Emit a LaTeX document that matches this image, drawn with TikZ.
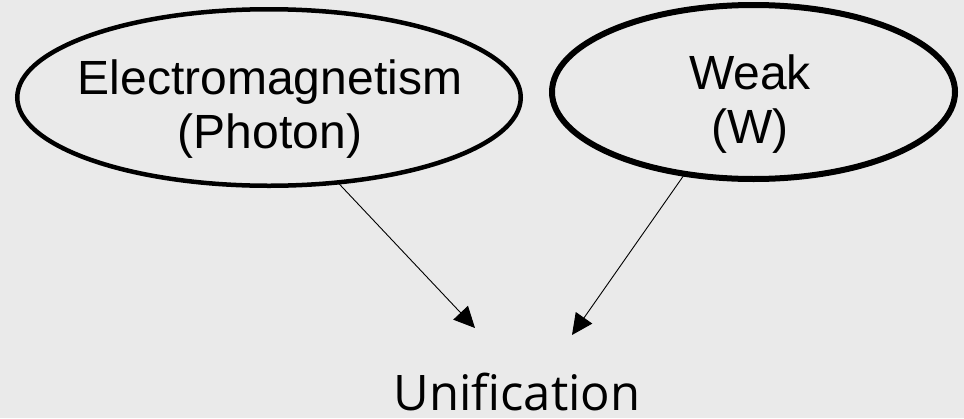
\documentclass[tikz,border=0pt]{standalone}
\usepackage{fontspec}
\setmainfont{Liberation Sans}
\newfontfamily\unifont{Open Sans}
\usetikzlibrary{shapes.geometric,arrows.meta}
\definecolor{bgpaper}{RGB}{234,234,234}
\tikzset{
  ell/.style={ellipse, draw=black, inner sep=0pt, outer sep=0pt},
  lbl/.style={inner sep=0pt, align=center, font=\fontsize{48}{54}\selectfont},
  arr/.style={draw=black, line width=0.9pt, -{Triangle[length=21pt,width=20pt]}}
}
\begin{document}
\begin{tikzpicture}[x=1pt,y=-1pt]
\fill[bgpaper] (0,0) rectangle (964,418);
\useasboundingbox (0,0) rectangle (964,418);
\node[ell, line width=4.5pt, minimum width=503.5pt, minimum height=176.5pt] (em) at (269,97.5) {};
\node[ell, line width=6pt, minimum width=403pt, minimum height=174pt] (wk) at (753.5,92) {};
\node[lbl] (emt) at (270,109) {Electromagnetism\\(Photon)};
\node[lbl] (wkt) at (750,104) {Weak\\(W)};
\node[inner sep=0pt, anchor=base, font=\unifont\fontsize{49}{54}\selectfont] (uni) at (517,410) {Unification};
\coordinate (tipL) at (475,328);
\coordinate (tipR) at (572,335);
\draw[arr] (em.-51) -- (tipL);
\draw[arr] (wk.-130) -- (tipR);
\end{tikzpicture}
\end{document}
